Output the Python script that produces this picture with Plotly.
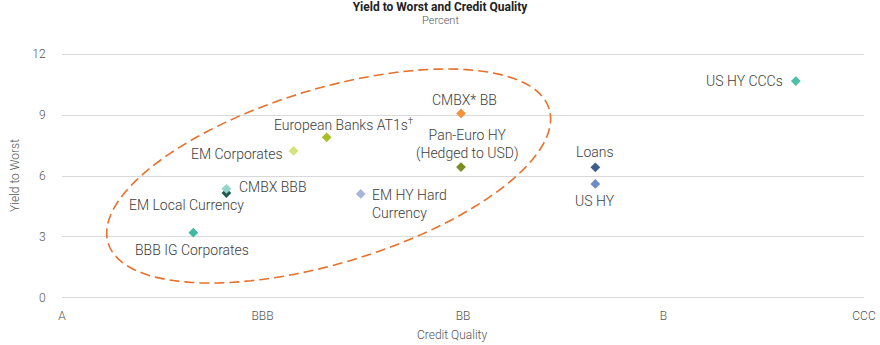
import numpy as np
import plotly.graph_objects as go

# Credit quality scale: A=0, BBB=1, BB=2, B=3, CCC=4
quality_ticks = [0, 1, 2, 3, 4]
quality_labels = ["A", "BBB", "BB", "B", "CCC"]
yield_ticks = [0, 3, 6, 9, 12]

sectors = [
    "US HY CCCs", "CMBX* BB", "European Banks AT1s<sup>†</sup>", "EM Corporates",
    "Pan-Euro HY<br>(Hedged to USD)", "Loans", "US HY", "EM Local Currency",
    "CMBX BBB", "EM HY Hard<br>Currency", "BBB IG Corporates",
]
credit_quality = [3.66, 1.99, 1.32, 1.155, 1.99, 2.66, 2.66, 0.82, 0.82, 1.49, 0.655]
yield_to_worst = [10.67, 9.08, 7.9, 7.23, 6.44, 6.43, 5.61, 5.16, 5.37, 5.12, 3.21]
colors = [
    "#4dbfa8", "#f7923a", "#a9c025", "#d6e37c", "#7a8c22", "#3e5c8e",
    "#6b8cc6", "#21594f", "#92d5ca", "#a6b6d9", "#3fb9a1",
]
# label placement: (xanchor, yanchor, xshift, yshift, align) in pixels
placements = [
    ("right", "middle", -11, 0, "center"),
    ("center", "bottom", 3, 3, "center"),
    ("center", "bottom", 17, 2, "center"),
    ("right", "middle", -9, -3, "center"),
    ("center", "bottom", 6, 3, "center"),
    ("center", "bottom", 0, 5, "center"),
    ("center", "top", 0, -7, "center"),
    ("right", "top", 20, -2, "center"),
    ("left", "middle", 11, 2, "center"),
    ("left", "top", 9, 9, "left"),
    ("left", "top", -60, -7, "center"),
]

W, H = 880, 345
M = dict(l=62, r=16, t=53, b=46)
Y_RANGE = [-0.05, 12.05]
px_per_x = (W - M["l"] - M["r"]) / 4
px_per_y = (H - M["t"] - M["b"]) / (Y_RANGE[1] - Y_RANGE[0])
plot_w = W - M["l"] - M["r"]
plot_h = H - M["t"] - M["b"]


def paper_x(px):
    return (px - M["l"]) / plot_w


def paper_y(py):
    return (H - M["b"] - py) / plot_h


fig = go.Figure()
fig.add_trace(go.Scatter(
    x=credit_quality, y=yield_to_worst, mode="markers",
    marker=dict(symbol="diamond", size=7.5, color=colors, line=dict(width=0)),
    hovertext=sectors, hoverinfo="text", showlegend=False, cliponaxis=False,
))

# Dashed rotated ellipse around the investment-grade / crossover group
cx, cy = 1.33, 6.0
a_px, b_px, tilt = 230.5, 87.2, np.deg2rad(16.9)
t = np.linspace(0, 2 * np.pi, 121)
ex = a_px * np.cos(t) * np.cos(tilt) - b_px * np.sin(t) * np.sin(tilt)
ey = a_px * np.cos(t) * np.sin(tilt) + b_px * np.sin(t) * np.cos(tilt)
xs = cx + ex / px_per_x
ys = cy + ey / px_per_y
path = "M " + " L ".join(f"{x:.4f},{y:.4f}" for x, y in zip(xs, ys)) + " Z"
fig.add_shape(type="path", path=path, xref="x", yref="y",
              line=dict(color="#e8702a", width=1.6, dash="10px,5px"))

FAMILY = "Roboto, sans-serif"
label_font = dict(family=FAMILY, size=14, color="#3c3c3c", weight=300)
for name, x, y, (xa, ya, xs_, ys_, al) in zip(sectors, credit_quality, yield_to_worst, placements):
    fig.add_annotation(x=x, y=y, text=name, showarrow=False, xanchor=xa, yanchor=ya,
                       xshift=xs_, yshift=ys_, font=label_font, align=al)

axis_font = dict(family=FAMILY, size=12, color="#555555", weight=300)

fig.add_annotation(text="Percent", xref="paper", yref="paper", x=paper_x(W / 2),
                   y=paper_y(21), xanchor="center", yanchor="middle", showarrow=False,
                   font=dict(family=FAMILY, size=11, color="#555555", weight=300))
fig.add_annotation(text="Credit Quality", xref="paper", yref="paper", x=paper_x(452),
                   y=paper_y(335), xanchor="center", yanchor="middle", showarrow=False,
                   font=axis_font)
fig.add_annotation(text="Yield to Worst", xref="paper", yref="paper", x=paper_x(15),
                   y=paper_y(176), xanchor="center", yanchor="middle", showarrow=False,
                   textangle=-90, font=axis_font)

fig.update_layout(
    width=W, height=H, margin=M,
    paper_bgcolor="white", plot_bgcolor="white",
    title=dict(text="<b>Yield to Worst and Credit Quality</b>", x=0.5, xanchor="center",
               y=(H - 7) / H, yanchor="middle",
               font=dict(family=FAMILY, size=12, color="#222222")),
    xaxis=dict(range=[0, 4], tickvals=quality_ticks, ticktext=quality_labels,
               showgrid=False, zeroline=False, showline=False, automargin=False,
               ticks="outside", ticklen=6, tickcolor="rgba(0,0,0,0)",
               tickfont=axis_font),
    yaxis=dict(range=Y_RANGE, tickvals=yield_ticks, showgrid=True, gridcolor="#d9d9d9",
               gridwidth=1, zeroline=False, showline=False, automargin=False,
               ticks="outside", ticklen=13, tickcolor="rgba(0,0,0,0)",
               tickfont=axis_font),
)

fig.write_html("out.html")
